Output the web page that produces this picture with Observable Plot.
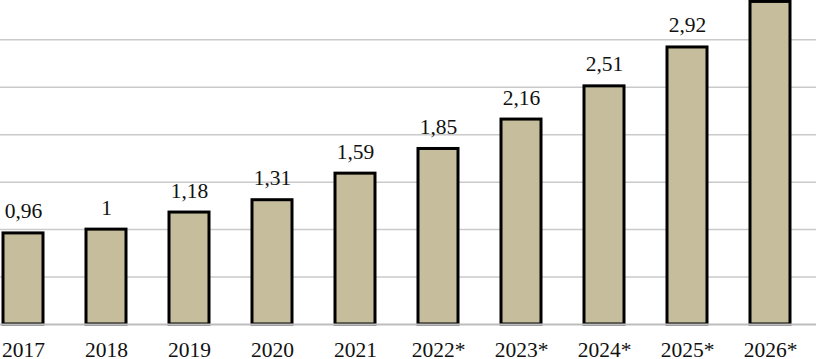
<!DOCTYPE html>
<html>
<head>
<meta charset="utf-8">
<script src="https://cdn.jsdelivr.net/npm/d3@7"></script>
<script src="https://cdn.jsdelivr.net/npm/@observablehq/plot@0.6"></script>
<style>
  html, body { margin: 0; padding: 0; background: #fff; overflow: hidden; }
  #chart svg, #chart svg * { font-family: "Liberation Serif", serif !important; }
</style>
</head>
<body>
<div id="chart"></div>
<script>
const years = ["2017", "2018", "2019", "2020", "2021", "2022*", "2023*", "2024*", "2025*", "2026*"];
const values = [0.96, 1, 1.18, 1.31, 1.59, 1.85, 2.16, 2.51, 2.92, 3.40];
const valueLabels = ["0,96", "1", "1,18", "1,31", "1,59", "1,85", "2,16", "2,51", "2,92", null];
const gridValues = [0.5, 1, 1.5, 2, 2.5, 3];

const data = years.map((y, i) => ({year: y, value: values[i], label: valueLabels[i]}));
const labelled = data.filter(d => d.label !== null);
const serif = "Liberation Serif";

const chart = Plot.plot({
  width: 816,
  height: 359,
  marginTop: 0,
  marginBottom: 35,
  marginLeft: 0,
  marginRight: 0,
  style: {fontFamily: serif, background: "#fff", color: "#111"},
  x: {domain: years, range: [-42.5, 835], padding: 0.5, label: null},
  y: {domain: [0, 3.415], range: [324, 0], axis: null},
  marks: [
    Plot.ruleY(gridValues, {stroke: "#cacaca", strokeWidth: 1.5}),
    Plot.barY(data, {x: "year", y: "value", fill: "#c5bd9b", stroke: "#000", strokeWidth: 3, insetLeft: 1, insetRight: 1}),
    Plot.ruleY([0], {stroke: "#bdbdbd", strokeWidth: 2}),
    Plot.text(labelled, {x: "year", y: "value", text: "label", dy: -15, lineAnchor: "bottom", fontSize: 21.5, fontFamily: serif, fill: "#111"}),
    Plot.axisX({tickSize: 0, tickPadding: 17, fontSize: 21.5, fontFamily: serif, label: null, fill: "#111"})
  ]
});
chart.removeAttribute("font-family");
chart.querySelectorAll("g, text, tspan").forEach(t => {
  t.setAttribute("font-family", serif);
  t.style.setProperty("font-family", "'Liberation Serif', serif", "important");
});
document.getElementById("chart").appendChild(chart);
</script>
</body>
</html>
